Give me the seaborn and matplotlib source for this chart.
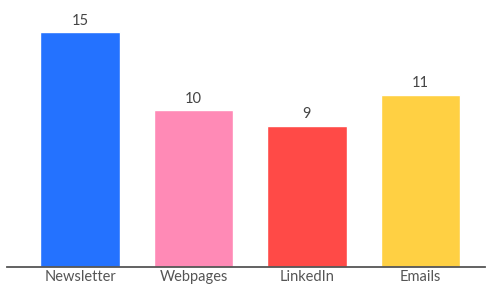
import matplotlib
matplotlib.use('Agg')
import matplotlib.pyplot as plt
import seaborn as sns
import pandas as pd

channels = ['Newsletter', 'Webpages', 'LinkedIn', 'Emails']
counts = [15, 10, 9, 11]
colors = ['#2472FF', '#FF8AB6', '#FF4A47', '#FFD043']

sns.set_theme(style='white')
plt.rcParams['font.family'] = ['Lato', 'DejaVu Sans']

df = pd.DataFrame({'channel': channels, 'count': counts})

fig = plt.figure(figsize=(4.9, 2.89), dpi=100)
ax = fig.add_axes([7 / 490, 22 / 289, 478 / 490, 267 / 289])
sns.barplot(data=df, x='channel', y='count', hue='channel', palette=colors,
            width=0.7, legend=False, ax=ax, saturation=1)

for i, v in enumerate(counts):
    ax.text(i, v + 0.3, str(v), ha='center', va='bottom', fontsize=10.5, color='#444444')

ax.set_xlim(-0.644, 3.57)
ax.set_ylim(0, 17.06)
ax.set_xlabel('')
ax.set_ylabel('')
ax.set_yticks([])
ax.tick_params(axis='x', length=0, labelsize=10.5, colors='#555555', pad=2)
for s in ['top', 'right', 'left']:
    ax.spines[s].set_visible(False)
ax.spines['bottom'].set_color('#555555')
ax.spines['bottom'].set_linewidth(1.3)

fig.savefig('out.png', dpi=100)
